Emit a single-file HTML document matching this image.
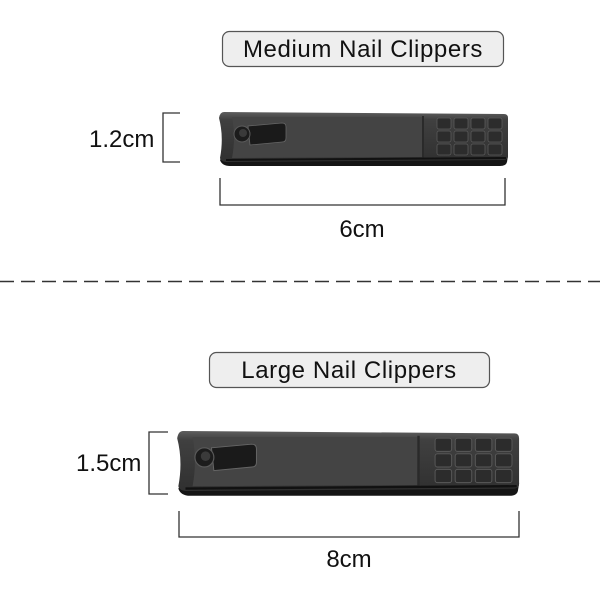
<!DOCTYPE html>
<html><head><meta charset="utf-8"><style>
html,body{margin:0;padding:0;background:#fff;}
svg{display:block;}
text{font-family:"Liberation Sans",sans-serif;fill:#111;}
</style></head><body>
<svg width="600" height="600" viewBox="0 0 600 600" xmlns="http://www.w3.org/2000/svg">
<defs>
<linearGradient id="bg" x1="0" y1="0" x2="0" y2="1">
<stop offset="0" stop-color="#5e5e5e"/><stop offset="0.15" stop-color="#404040"/><stop offset="1" stop-color="#303030"/>
</linearGradient>
<g id="clip">
<path d="M8,38 L286,38 Q290,38 290,44 L289,50 Q288,54 282,54 L12,54 Q4,54 2,48 Z" fill="#151515"/>
<path d="M6,0 L286,2 Q290,2 290,6 L290,44 Q290,48 285,48 L10,50 Q3,50 2,46 Q6,25 1,6 Q2,0 6,0Z" fill="url(#bg)"/>
<path d="M14,5 L204,5 L204,45 L14,46 Q18,25 14,5Z" fill="#444"/>
<rect x="204" y="4" width="2" height="42" fill="#2a2a2a"/>
<path d="M8,48 L288,46" stroke="#111" stroke-width="2"/>
<g fill="#2c2c2c" stroke="#5a5a5a" stroke-width="0.8">
<rect x="219" y="6" width="14" height="11" rx="2"/><rect x="236" y="6" width="14" height="11" rx="2"/><rect x="253" y="6" width="14" height="11" rx="2"/><rect x="270" y="6" width="14" height="11" rx="2"/>
<rect x="219" y="19" width="14" height="11" rx="2"/><rect x="236" y="19" width="14" height="11" rx="2"/><rect x="253" y="19" width="14" height="11" rx="2"/><rect x="270" y="19" width="14" height="11" rx="2"/>
<rect x="219" y="32" width="14" height="11" rx="2"/><rect x="236" y="32" width="14" height="11" rx="2"/><rect x="253" y="32" width="14" height="11" rx="2"/><rect x="270" y="32" width="14" height="11" rx="2"/>
</g>
<path d="M30,14 L64,11 Q68,11 68,15 L68,26 Q68,30 64,30 L32,33 Z" fill="#1a1a1a" stroke="#666" stroke-width="0.8"/>
<circle cx="24" cy="22" r="8" fill="#1c1c1c" stroke="#5a5a5a"/>
<circle cx="25" cy="21" r="4" fill="#3a3a3a"/>
</g>
</defs>

<rect x="222.5" y="31.5" width="281" height="35" rx="7" fill="#eeeeee" stroke="#555" stroke-width="1.2"/>
<text x="363" y="57" font-size="24" letter-spacing="0.6" text-anchor="middle">Medium Nail Clippers</text>
<use href="#clip" transform="translate(218,112)"/>
<path d="M180,113 L163,113 L163,162 L180,162" fill="none" stroke="#333" stroke-width="1.3"/>
<text x="89" y="147" font-size="24">1.2cm</text>
<path d="M220,178 L220,205 L505,205 L505,178" fill="none" stroke="#333" stroke-width="1.3"/>
<text x="362" y="237" font-size="24" text-anchor="middle">6cm</text>

<line x1="0" y1="281.5" x2="600" y2="281.5" stroke="#333" stroke-width="1.6" stroke-dasharray="14,7"/>

<rect x="209.5" y="352.5" width="280" height="35" rx="7" fill="#eeeeee" stroke="#555" stroke-width="1.2"/>
<text x="349" y="378" font-size="24" letter-spacing="0.6" text-anchor="middle">Large Nail Clippers</text>
<use href="#clip" transform="translate(176,431) scale(1.183,1.2)"/>
<path d="M168,432 L149,432 L149,494 L168,494" fill="none" stroke="#333" stroke-width="1.3"/>
<text x="76" y="471" font-size="24">1.5cm</text>
<path d="M179,511 L179,537 L519,537 L519,511" fill="none" stroke="#333" stroke-width="1.3"/>
<text x="349" y="567" font-size="24" text-anchor="middle">8cm</text>
</svg>
</body></html>
